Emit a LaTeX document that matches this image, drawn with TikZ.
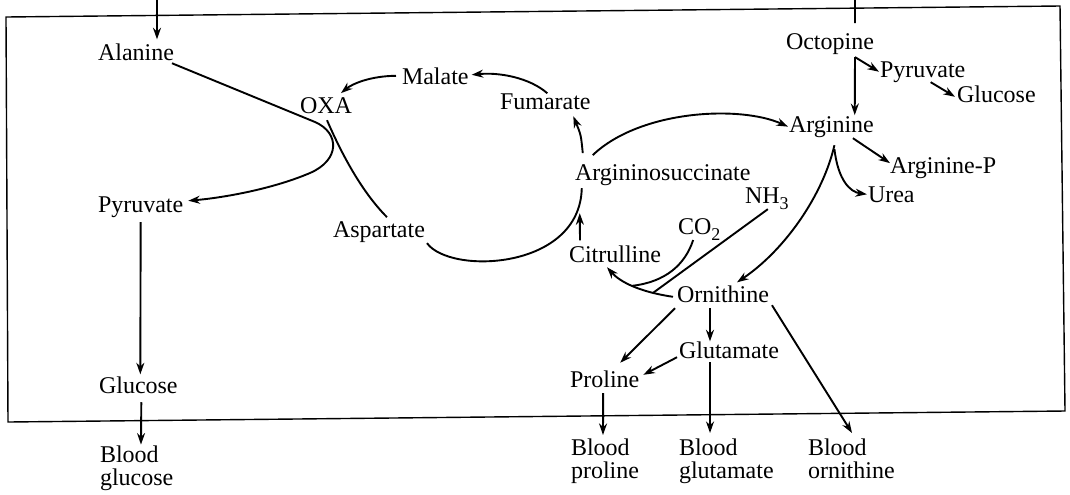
\documentclass[tikz,border=0pt]{standalone}
\usepackage{fontspec}
\setmainfont{Liberation Serif}
\usetikzlibrary{arrows.meta}
\newcommand{\lowsub}[1]{\raisebox{-3pt}{\fontsize{9}{9}\selectfont #1}}
\begin{document}
\begin{tikzpicture}[x=0.5pt,y=-0.5pt,
  lbl/.style={inner sep=0pt, outer sep=0pt, anchor=base west, font=\fontsize{12}{11.5}\selectfont},
  lbl2/.style={inner sep=0pt, outer sep=0pt, anchor=north west, align=left, font=\fontsize{12}{11.5}\selectfont},
  conn/.style={line width=0.95pt},
  arr/.style={conn, -{Stealth[length=5.8pt,width=4pt]}},
  frame/.style={line width=0.7pt}]
\useasboundingbox (0,0) rectangle (1070,494);
% frame
\draw[frame] (6,17) -- (1060,6) -- (1065,411) -- (8,422) -- cycle;
% labels
\node[lbl] (Ala) at (98,60) {Alanine};
\node[lbl] (OXA) at (300,113) {OXA};
\node[lbl] (Mal) at (402,84) {Malate};
\node[lbl] (Fum) at (500,109) {Fumarate};
\node[lbl] (ArgS) at (575,180) {Argininosuccinate};
\node[lbl] (Arg) at (789,132) {Arginine};
\node[lbl] (Oct) at (786,49) {Octopine};
\node[lbl] (PyrR) at (880,77) {Pyruvate};
\node[lbl] (GluR) at (957,102) {Glucose};
\node[lbl] (ArgP) at (890,173) {Arginine-P};
\node[lbl] (Urea) at (868,202) {Urea};
\node[lbl] (NH3) at (745,203) {NH\lowsub{3}};
\node[lbl] (CO2) at (678,234) {CO\lowsub{2}};
\node[lbl] (Cit) at (569,262) {Citrulline};
\node[lbl] (Orn) at (677,302) {Ornithine};
\node[lbl] (Glut) at (679,358) {Glutamate};
\node[lbl] (Pro) at (570,387) {Proline};
\node[lbl] (PyrL) at (98,212) {Pyruvate};
\node[lbl] (Asp) at (333,237) {Aspartate};
\node[lbl] (GluL) at (99,393) {Glucose};
\node[lbl2] (BGlc) at (100,445.6) {Blood\\glucose};
\node[lbl2] (BPro) at (571,438.6) {Blood\\proline};
\node[lbl2] (BGlut) at (679,438.6) {Blood\\glutamate};
\node[lbl2] (BOrn) at (808,438.6) {Blood\\ornithine};
% inputs
\coordinate (inL) at (157,0);
\coordinate (inR) at (855,0);
\draw[arr] (inL) -- ([shift={(21,-4)}]Ala.north);
\draw[conn] (inR) -- ([shift={(25,-10)}]Oct.north);
% octopine branch
\draw[arr] ([shift={(25,3)}]Oct.south) -- ([shift={(23.3,-1)}]Arg.north);
\draw[arr] ([shift={(25,3)}]Oct.south) -- ([shift={(-1,0)}]PyrR.west);
\draw[arr] ([shift={(8,0)}]PyrR.south) -- ([shift={(-2,3)}]GluR.west);
% cycle
\draw[arr] ([shift={(-70,-9)}]ArgS.north) .. controls (640,110) and (740,105) .. ([shift={(-1,0)}]Arg.west);
\draw[arr] ([shift={(-80,-11)}]ArgS.north) .. controls (581,135) .. ([shift={(28,7)}]Fum.south);
\draw[arr] ([shift={(2,0)}]Fum.north) .. controls (530,78) and (500,72) .. ([shift={(3,-1)}]Mal.east);
\draw[arr] ([shift={(-6,0)}]Mal.west) .. controls (370,76) and (352,84) .. ([shift={(15,-4)}]OXA.north);
\draw[conn] ([shift={(1,7)}]OXA.south) .. controls (340,150) and (360,190) .. ([shift={(8,-4)}]Asp.north);
\draw[conn] ([shift={(2,1)}]Asp.south east) .. controls (450,275) and (580,270) .. ([shift={(-81,3)}]ArgS.south);
\draw[arr] ([shift={(-35,-5)}]Cit.north) -- ([shift={(-83,28)}]ArgS.south);
\draw[arr] ([shift={(-4,3)}]Orn.west) .. controls (640,292) and (620,282) .. ([shift={(-8,5)}]Cit.south)
  coordinate[pos=0.5] (jc) coordinate[pos=0.22] (jn);
\draw[conn] ([shift={(-6,0)}]CO2.south) .. controls (685,265) and (665,282) .. (jc);
\draw[conn] ([shift={(1,0)}]NH3.south) -- (jn);
% arginine branches
\draw[arr] ([shift={(3,8)}]Arg.south) .. controls (823,195) and (785,250) .. ([shift={(14,-3)}]Orn.north);
\draw[arr] ([shift={(3,12)}]Arg.south) .. controls (838,180) and (850,192) .. ([shift={(-1,0)}]Urea.west);
\draw[arr] ([shift={(-21,1)}]Arg.south east) -- ([shift={(0,6)}]ArgP.north west);
% alanine to pyruvate
\draw[arr] ([shift={(-2,3)}]Ala.south east) -- (315,122) .. controls (340,133) and (340,160) .. (310,173)
  .. controls (270,190) and (220,198) .. ([shift={(5,-6)}]PyrL.east);
\draw[arr] ([shift={(0,5)}]PyrL.south) -- ([shift={(2,-2)}]GluL.north);
\draw[arr] ([shift={(3,9)}]GluL.south) -- ([shift={(4.3,-1)}]BGlc.north);
% ornithine branches
\draw[arr] ([shift={(-2,6)}]Orn.south west) -- ([shift={(15.5,-7.6)}]Pro.north);
\draw[arr] ([shift={(-13,6)}]Orn.south) -- ([shift={(-19,0)}]Glut.north);
\draw[arr] ([shift={(-2,-1)}]Glut.south west) -- ([shift={(4,-4)}]Pro.east);
\draw[arr] ([shift={(-1.5,6)}]Pro.south) -- ([shift={(-2,-3.6)}]BPro.north);
\draw[arr] ([shift={(-19,4)}]Glut.south) -- ([shift={(-16.3,-5.6)}]BGlut.north);
\draw[arr] ([shift={(3,3)}]Orn.south east) -- ([shift={(0.7,-5.6)}]BOrn.north);
\end{tikzpicture}
\end{document}
